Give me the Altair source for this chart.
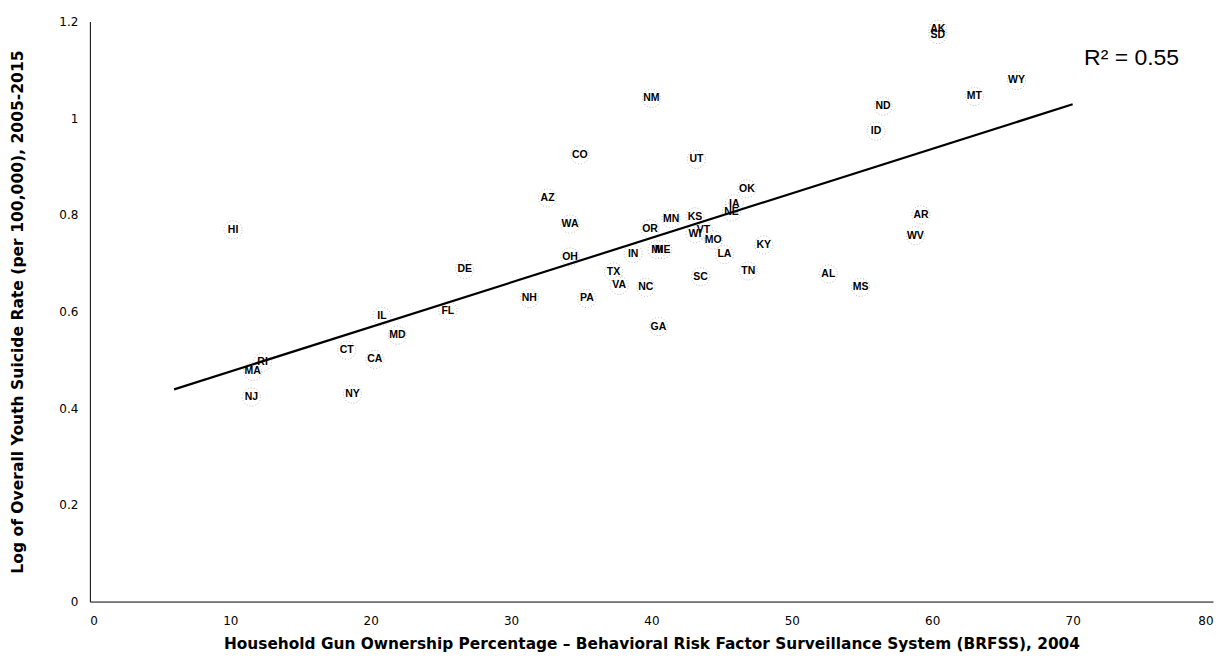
import altair as alt
import pandas as pd

states = ["HI","MA","RI","NJ","CT","NY","CA","IL","MD","FL","DE","NH","AZ","WA","OH","CO",
          "PA","TX","VA","IN","NC","NM","OR","MN","MI","ME","GA","KS","WI","VT","MO","SC",
          "UT","LA","TN","IA","NE","OK","KY","AL","MS","AR","WV","ID","ND","MT","WY","AK","SD"]
gun_pct = [10.2,11.6,12.3,11.5,18.3,18.7,20.3,20.8,21.9,25.5,26.7,31.3,32.6,34.2,34.2,34.9,
           35.4,37.3,37.7,38.7,39.6,40.0,39.9,41.4,40.4,40.8,40.5,43.1,43.1,43.7,44.4,43.5,
           43.2,45.2,46.9,45.9,45.7,46.8,48.0,52.6,54.9,59.2,58.8,56.0,56.5,63.0,66.0,60.4,60.4]
log_rate = [0.769,0.476,0.495,0.423,0.520,0.429,0.501,0.590,0.551,0.602,0.687,0.627,0.835,0.781,0.713,0.924,
            0.627,0.682,0.654,0.720,0.650,1.041,0.771,0.792,0.728,0.728,0.569,0.796,0.761,0.769,0.748,0.672,
            0.915,0.718,0.684,0.823,0.806,0.854,0.738,0.678,0.650,0.800,0.757,0.973,1.025,1.045,1.078,1.184,1.173]

r2_label = ["R² = 0.55"]
r2_x = [74.2]
r2_y = [1.124]

df = pd.DataFrame({"state": states, "gun": gun_pct, "rate": log_rate})
ann = pd.DataFrame({"label": r2_label, "x": r2_x, "y": r2_y})

xscale = alt.Scale(domain=[0, 80], nice=False, zero=True)
yscale = alt.Scale(domain=[0, 1.2], nice=False)

xaxis = alt.Axis(values=[0,10,20,30,40,50,60,70,80], grid=False, ticks=False,
                 domainColor="black", domainWidth=1, labelFont="DejaVu Sans", labelFontSize=12,
                 labelColor="black", labelPadding=14,
                 title="Household Gun Ownership Percentage – Behavioral Risk Factor Surveillance System (BRFSS), 2004",
                 titleFont="DejaVu Sans", titleFontSize=15.4, titleFontWeight="bold",
                 titleColor="black", titlePadding=10)
yaxis = alt.Axis(values=[0,0.2,0.4,0.6,0.8,1.0,1.2], grid=False, ticks=False,
                 domainColor="black", domainWidth=1, labelFont="DejaVu Sans", labelFontSize=12,
                 labelColor="black", labelPadding=12,
                 labelExpr="datum.value == 0 ? '0' : format(datum.value, '.1~f')",
                 title="Log of Overall Youth Suicide Rate (per 100,000), 2005-2015",
                 titleFont="DejaVu Sans", titleFontSize=15.6, titleFontWeight="bold",
                 titleColor="black", titlePadding=33)

base = alt.Chart(df)

pts = base.mark_point(shape="circle", size=330, filled=False, stroke="#999999",
                      strokeWidth=1, strokeDash=[1, 2]).encode(
    x=alt.X("gun:Q", scale=xscale, axis=xaxis),
    y=alt.Y("rate:Q", scale=yscale, axis=yaxis),
)

labels = base.mark_text(font="Liberation Sans", fontSize=10.5, fontWeight="bold",
                        color="black").encode(
    x=alt.X("gun:Q", scale=xscale),
    y=alt.Y("rate:Q", scale=yscale),
    text="state:N",
)

trend = base.transform_regression("gun", "rate", extent=[6, 70]).mark_line(
    color="black", strokeWidth=2.2).encode(
    x=alt.X("gun:Q", scale=xscale),
    y=alt.Y("rate:Q", scale=yscale),
)

r2 = alt.Chart(ann).mark_text(font="Liberation Sans", fontSize=23, color="black",
                              align="center").encode(
    x=alt.X("x:Q", scale=xscale),
    y=alt.Y("y:Q", scale=yscale),
    text="label:N",
)

chart = alt.layer(pts, trend, labels, r2).properties(
    width=1125, height=581,
    autosize=alt.AutoSizeParams(type="none"),
    padding={"left": 82, "top": 13, "right": 10, "bottom": 60},
    background="white",
).configure_view(stroke=None)

chart.save("out.html", embed_options={"renderer": "svg", "actions": False})
